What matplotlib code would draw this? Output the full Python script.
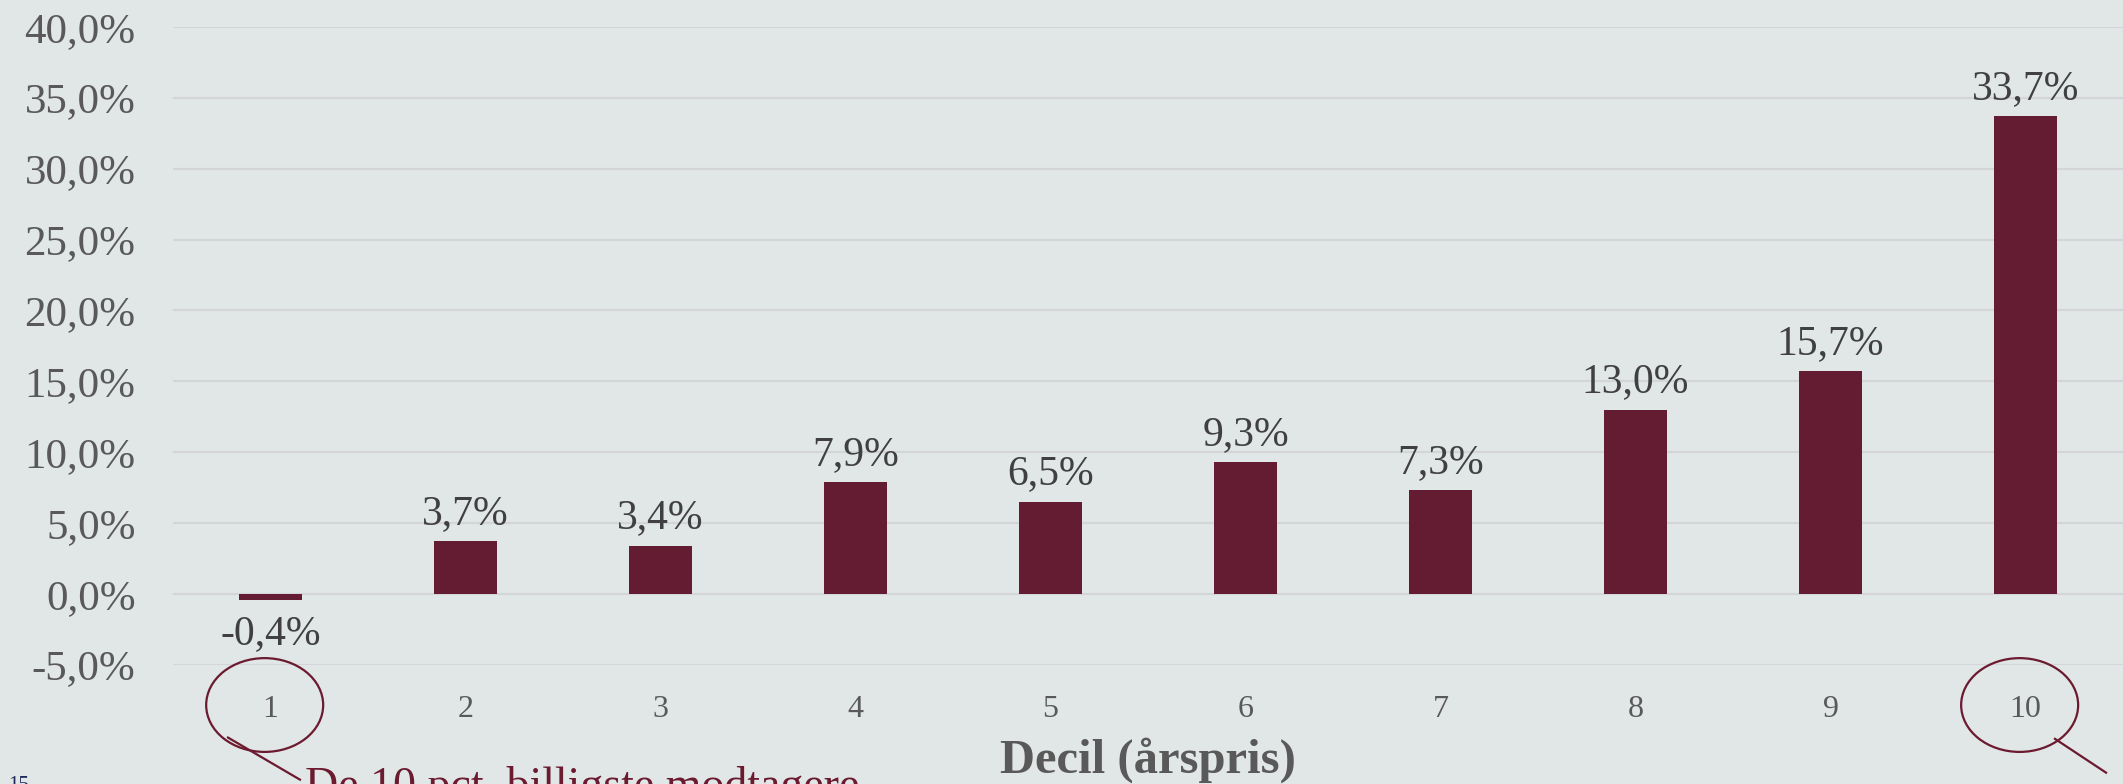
import matplotlib
matplotlib.use("Agg")
import matplotlib.pyplot as plt
import matplotlib.transforms as mtransforms
from matplotlib.patches import Ellipse
import numpy as np

deciles = ["1", "2", "3", "4", "5", "6", "7", "8", "9", "10"]
changePerDecile = [-0.4, 3.7, 3.4, 7.9, 6.5, 9.3, 7.3, 13.0, 15.7, 33.7]
yTicks = [-5, 0, 5, 10, 15, 20, 25, 30, 35, 40]
xAxisTitle = "Decil (årspris)"
calloutText = "De 10 pct. billigste modtagere"
pageNumber = "15"

backgroundColor = "#E1E6E6"
barColor = "#641C32"
calloutColor = "#6B1A30"
tickColor = "#595959"
labelColor = "#404040"
gridColor = "#D4D5D8"

def danishPercent(value):
    #Excel style percent with a comma as decimal separator
    return ("%.1f%%" % value).replace(".", ",")

plt.rcParams['font.family'] = ['Liberation Serif', 'DejaVu Serif']

currentFigure = plt.figure(figsize=(21.23, 7.84), dpi=100, facecolor=backgroundColor)
ax = currentFigure.add_axes([0.0815, 0.152, 0.9185, 0.8137])
ax.set_facecolor(backgroundColor)

xPositions = np.arange(1, len(deciles) + 1)
bars = ax.bar(xPositions, changePerDecile, width=0.32, color=barColor, zorder=3)

ax.set_xlim(0.5, len(deciles) + 0.5)
ax.set_ylim(yTicks[0], yTicks[-1])
ax.set_yticks(yTicks)
ax.set_yticklabels([danishPercent(t) for t in yTicks], fontsize=31, color=tickColor)
ax.set_xticks(xPositions)
ax.set_xticklabels(deciles, fontsize=23, color=tickColor)
ax.tick_params(axis='y', length=0, pad=27)
ax.tick_params(axis='x', length=0, pad=22)
ax.yaxis.grid(True, color=gridColor, linewidth=1.6, zorder=0)
ax.set_axisbelow(True)
for spine in ax.spines.values():
    spine.set_visible(False)

#Value labels above positive bars, below negative ones
for xPos, value in zip(xPositions, changePerDecile):
    if value >= 0:
        ax.annotate(danishPercent(value), (xPos, value), xytext=(0, 6), textcoords="offset points",
                    ha="center", va="bottom", fontsize=30, color=labelColor)
    else:
        ax.annotate(danishPercent(value), (xPos, value), xytext=(0, -11), textcoords="offset points",
                    ha="center", va="top", fontsize=30, color=labelColor)

ax.set_xlabel(xAxisTitle, fontsize=35, fontweight="bold", color=tickColor)
ax.xaxis.set_label_coords(0.5, -0.169)
ax.xaxis.label.set_va("baseline")

#Circles around the first and last decile with pointer lines
blended = mtransforms.blended_transform_factory(ax.transData, ax.transAxes)
for xPos in [xPositions[0], xPositions[-1]]:
    circle = Ellipse((xPos - 0.03, -0.063), 0.6, 0.147, transform=blended, fill=False,
                     edgecolor=calloutColor, linewidth=1.6, clip_on=False)
    ax.add_patch(circle)

ax.plot([0.782, 1.151], [-0.114, -0.180], transform=blended, color=calloutColor, linewidth=1.6, clip_on=False)
ax.plot([10.151, 10.413], [-0.116, -0.169], transform=blended, color=calloutColor, linewidth=1.6, clip_on=False)
ax.text(1.177, -0.21, calloutText, transform=blended, fontsize=33, color=calloutColor,
        ha="left", va="baseline", clip_on=False)

currentFigure.text(0.004, -0.008, pageNumber, fontsize=15, color="#1F2A5C", ha="left", va="baseline")

currentFigure.savefig("out.png", dpi=100, facecolor=backgroundColor)
